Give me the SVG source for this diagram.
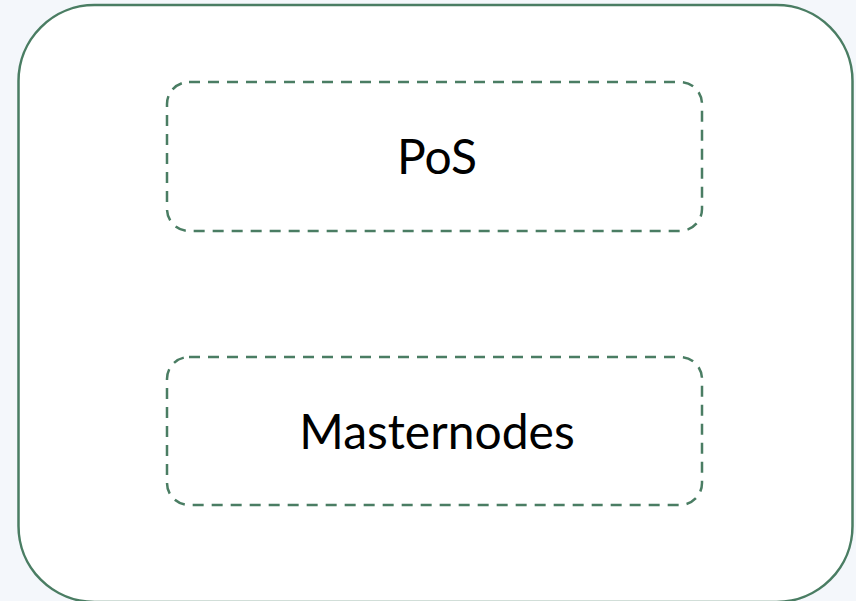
<svg xmlns="http://www.w3.org/2000/svg" width="856" height="601" viewBox="0 0 856 601">
  <style>
    .outer { fill: #ffffff; stroke: #4a7d63; stroke-width: 2.5; }
    .box { fill: #ffffff; stroke: #4a7d63; stroke-width: 2.5; stroke-dasharray: 11 8; }
    .label { font-family: "Lato", "Liberation Sans", sans-serif; font-size: 48px; fill: #000000; text-anchor: middle; }
  </style>
  <rect x="0" y="0" width="856" height="601" fill="#f4f7fb"/>
  <g id="container">
    <rect class="outer" x="18.5" y="5" width="834" height="597" rx="76" ry="76"/>
  </g>
  <g id="pos">
    <rect class="box" x="167" y="82" width="535" height="149" rx="22" ry="22"/>
    <text class="label" x="437" y="174">PoS</text>
  </g>
  <g id="masternodes">
    <rect class="box" x="167" y="357" width="535" height="148" rx="22" ry="22"/>
    <text class="label" x="437" y="449">Masternodes</text>
  </g>
  <g id="connectors"/>
</svg>
